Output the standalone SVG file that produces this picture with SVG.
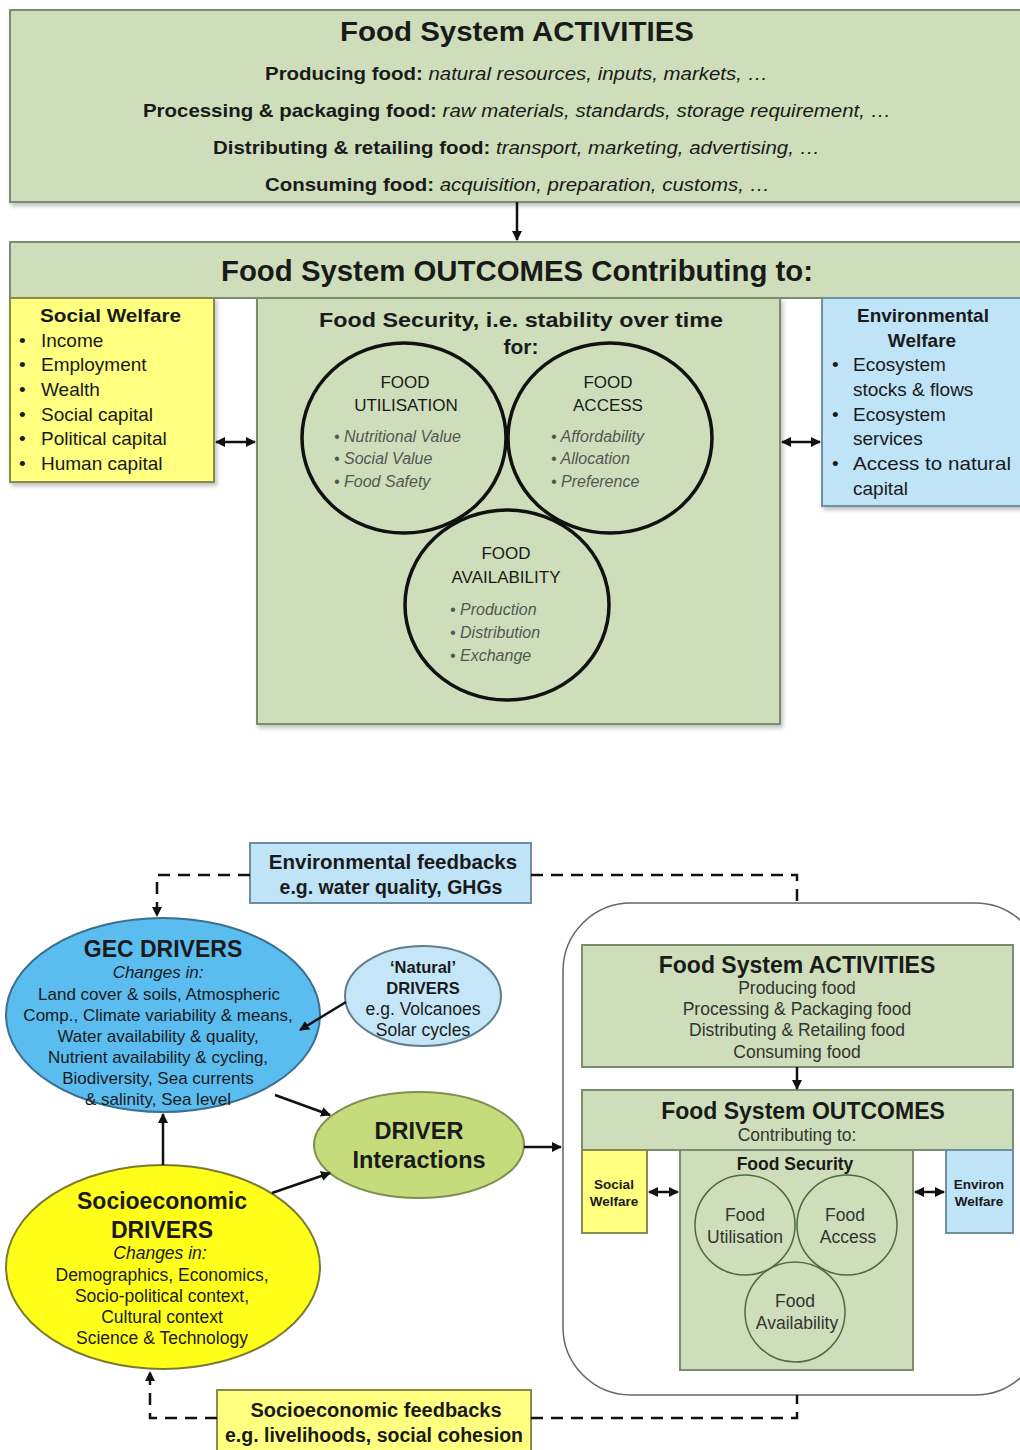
<svg xmlns="http://www.w3.org/2000/svg" width="1020" height="1450" viewBox="0 0 1020 1450">
<defs>
<style>
text{font-family:"Liberation Sans",Arial,sans-serif;fill:#1a1a1a}
.g{fill:#cfdeba;stroke:#7d8c6e;stroke-width:2}
.y{fill:#ffff80;stroke:#8a8a50;stroke-width:2}
.b{fill:#bfe3f7;stroke:#6f8fa0;stroke-width:2}
.b1{font-weight:bold}
.it{font-style:italic;fill:#555}
.c{text-anchor:middle}
.ring{fill:none;stroke:#111;stroke-width:3.5}
.ring2{fill:none;stroke:#4f6a3f;stroke-width:1.5}
.ln{stroke:#111;stroke-width:2.5;fill:none}
.dash{stroke:#111;stroke-width:2.5;fill:none;stroke-dasharray:12 8}
.sm{fill:#333;font-size:17.5px}
</style>
<marker id="ah" viewBox="0 0 10 10" refX="9" refY="5" markerWidth="4" markerHeight="4" orient="auto-start-reverse"><path d="M0,0L10,5L0,10z" fill="#111"/></marker>
<filter id="sh" x="-5%" y="-5%" width="110%" height="115%"><feDropShadow dx="2" dy="3" stdDeviation="2" flood-color="#000" flood-opacity="0.25"/></filter>
</defs>

<!-- TOP DIAGRAM -->
<g id="activities">
<rect class="g" x="10" y="10" width="1012" height="192" filter="url(#sh)"/>
<text class="b1 c" x="517" y="41" font-size="28" textLength="354" lengthAdjust="spacingAndGlyphs">Food System ACTIVITIES</text>
<text x="265" y="80" font-size="19" textLength="503" lengthAdjust="spacingAndGlyphs"><tspan class="b1">Producing food:</tspan><tspan font-style="italic"> natural resources, inputs, markets, …</tspan></text>
<text x="143" y="117" font-size="19" textLength="748" lengthAdjust="spacingAndGlyphs"><tspan class="b1">Processing &amp; packaging food:</tspan><tspan font-style="italic"> raw materials, standards, storage requirement, …</tspan></text>
<text x="213" y="154" font-size="19" textLength="607" lengthAdjust="spacingAndGlyphs"><tspan class="b1">Distributing &amp; retailing food:</tspan><tspan font-style="italic"> transport, marketing, advertising, …</tspan></text>
<text x="265" y="191" font-size="19" textLength="505" lengthAdjust="spacingAndGlyphs"><tspan class="b1">Consuming food:</tspan><tspan font-style="italic"> acquisition, preparation, customs, …</tspan></text>
</g>

<g id="outcomes">
<rect class="g" x="10" y="242" width="1012" height="56"/>
<text class="b1 c" x="517" y="281" font-size="29" textLength="592" lengthAdjust="spacingAndGlyphs">Food System OUTCOMES Contributing to:</text>
</g>

<g id="social-welfare">
<rect class="y" x="10" y="298" width="204" height="184" filter="url(#sh)"/>
<text class="b1" x="40" y="322" font-size="19" textLength="141" lengthAdjust="spacingAndGlyphs">Social Welfare</text>
<g font-size="19">
<text x="19" y="347">•</text><text x="41" y="347">Income</text>
<text x="19" y="371">•</text><text x="41" y="371">Employment</text>
<text x="19" y="396">•</text><text x="41" y="396">Wealth</text>
<text x="19" y="421">•</text><text x="41" y="421">Social capital</text>
<text x="19" y="445">•</text><text x="41" y="445">Political capital</text>
<text x="19" y="470">•</text><text x="41" y="470">Human capital</text>
</g>
</g>

<g id="food-security">
<rect class="g" x="257" y="298" width="523" height="426" filter="url(#sh)"/>
<text class="c" x="521" y="327" font-size="21" font-weight="bold" fill="#222" textLength="404" lengthAdjust="spacingAndGlyphs">Food Security, i.e. stability over time</text>
<text class="c b1" x="521" y="354" font-size="21">for:</text>
</g>

<g id="food-utilisation">
<ellipse class="ring" cx="404" cy="438" rx="102" ry="95"/>
<text class="c" x="405" y="388" font-size="17" fill="#222">FOOD</text>
<text class="c" x="406" y="411" font-size="17" fill="#222">UTILISATION</text>
<text class="it" x="334" y="442" font-size="16">• Nutritional Value</text>
<text class="it" x="334" y="464" font-size="16">• Social Value</text>
<text class="it" x="334" y="487" font-size="16">• Food Safety</text>
</g>

<g id="food-access">
<ellipse class="ring" cx="610" cy="438" rx="102" ry="95"/>
<text class="c" x="608" y="388" font-size="17" fill="#222">FOOD</text>
<text class="c" x="608" y="411" font-size="17" fill="#222">ACCESS</text>
<text class="it" x="551" y="442" font-size="16">• Affordability</text>
<text class="it" x="551" y="464" font-size="16">• Allocation</text>
<text class="it" x="551" y="487" font-size="16">• Preference</text>
</g>

<g id="food-availability">
<ellipse class="ring" cx="507" cy="605" rx="102" ry="95"/>
<text class="c" x="506" y="559" font-size="17" fill="#222">FOOD</text>
<text class="c" x="506" y="583" font-size="17" fill="#222">AVAILABILITY</text>
<text class="it" x="450" y="615" font-size="16">• Production</text>
<text class="it" x="450" y="638" font-size="16">• Distribution</text>
<text class="it" x="450" y="661" font-size="16">• Exchange</text>
</g>

<g id="environmental-welfare">
<rect class="b" x="822" y="298" width="200" height="208" filter="url(#sh)"/>
<text class="b1 c" x="923" y="322" font-size="19">Environmental</text>
<text class="b1 c" x="922" y="347" font-size="19">Welfare</text>
<g font-size="19">
<text x="832" y="371">•</text><text x="853" y="371">Ecosystem</text>
<text x="853" y="396">stocks &amp; flows</text>
<text x="832" y="421">•</text><text x="853" y="421">Ecosystem</text>
<text x="853" y="445">services</text>
<text x="832" y="470">•</text><text x="853" y="470" textLength="158" lengthAdjust="spacingAndGlyphs">Access to natural</text>
<text x="853" y="495">capital</text>
</g>
</g>

<!-- BOTTOM DIAGRAM -->
<g id="env-feedbacks">
<rect class="b" x="250" y="843" width="281" height="60"/>
<text class="b1 c" x="393" y="869" font-size="20.5">Environmental feedbacks</text>
<text class="c" x="391" y="894" font-size="19.5" font-weight="bold" fill="#222">e.g. water quality, GHGs</text>
</g>

<g id="gec-drivers">
<ellipse cx="163" cy="1015" rx="157" ry="97" fill="#5bbdef" stroke="#3a6f8f" stroke-width="2"/>
<text class="b1 c" x="163" y="957" font-size="23" fill="#10223a">GEC DRIVERS</text>
<g class="c" font-size="17">
<text x="158" y="978" font-style="italic" fill="#1e3350">Changes in:</text>
<text x="159" y="1000" fill="#1e3350">Land cover &amp; soils, Atmospheric</text>
<text x="158" y="1021" fill="#1e3350">Comp., Climate variability &amp; means,</text>
<text x="158" y="1042" fill="#1e3350">Water availability &amp; quality,</text>
<text x="158" y="1063" fill="#1e3350">Nutrient availability &amp; cycling,</text>
<text x="158" y="1084" fill="#1e3350">Biodiversity, Sea currents</text>
<text x="158" y="1105" fill="#1e3350">&amp; salinity, Sea level</text>
</g>
</g>

<g id="natural-drivers">
<ellipse cx="423" cy="996" rx="78" ry="50" fill="#c5e6f8" stroke="#5f7f90" stroke-width="2"/>
<text class="b1 c" x="423" y="973" font-size="16.5">‘Natural’</text>
<text class="b1 c" x="423" y="994" font-size="16.5">DRIVERS</text>
<text class="c" x="423" y="1015" font-size="17.5" fill="#3a4a5a">e.g. Volcanoes</text>
<text class="c" x="423" y="1036" font-size="17.5" fill="#3a4a5a">Solar cycles</text>
</g>

<g id="driver-interactions">
<ellipse cx="419" cy="1145" rx="105" ry="53" fill="#c6dc7c" stroke="#7f8f4f" stroke-width="2"/>
<text class="b1 c" x="419" y="1139" font-size="23.5">DRIVER</text>
<text class="b1 c" x="419" y="1168" font-size="23.5">Interactions</text>
</g>

<g id="socioeconomic-drivers">
<ellipse cx="163" cy="1267" rx="157" ry="102" fill="#ffff1a" stroke="#7a7a30" stroke-width="2"/>
<text class="b1 c" x="162" y="1209" font-size="23">Socioeconomic</text>
<text class="b1 c" x="162" y="1238" font-size="23">DRIVERS</text>
<g class="c" font-size="17.5">
<text x="160" y="1259" font-style="italic" fill="#4a4a20">Changes in:</text>
<text x="162" y="1281" fill="#4a4a20">Demographics, Economics,</text>
<text x="162" y="1302" fill="#4a4a20">Socio-political context,</text>
<text x="162" y="1323" fill="#4a4a20">Cultural context</text>
<text x="162" y="1344" fill="#4a4a20">Science &amp; Technology</text>
</g>
</g>

<g id="socio-feedbacks">
<rect class="y" x="217" y="1390" width="314" height="62"/>
<text class="b1 c" x="376" y="1417" font-size="20">Socioeconomic feedbacks</text>
<text class="c" x="374" y="1442" font-size="19.5" font-weight="bold" fill="#222">e.g. livelihoods, social cohesion</text>
</g>

<g id="food-system">
<rect x="563" y="903" width="480" height="492" rx="68" fill="#fff" stroke="#666" stroke-width="1.5"/>
</g>

<g id="fs-activities">
<rect class="g" x="582" y="945" width="431" height="122"/>
<text class="b1 c" x="797" y="973" font-size="23">Food System ACTIVITIES</text>
<text class="c sm" x="797" y="994">Producing food</text>
<text class="c sm" x="797" y="1015">Processing &amp; Packaging food</text>
<text class="c sm" x="797" y="1036">Distributing &amp; Retailing food</text>
<text class="c sm" x="797" y="1058">Consuming food</text>
</g>

<g id="fs-outcomes">
<rect class="g" x="582" y="1090" width="431" height="60"/>
<text class="b1 c" x="803" y="1119" font-size="23">Food System OUTCOMES</text>
<text class="c sm" x="797" y="1141">Contributing to:</text>
</g>

<g id="fs-social-welfare">
<rect class="y" x="582" y="1150" width="65" height="83"/>
<text class="b1 c" x="614" y="1189" font-size="13.5">Social</text>
<text class="b1 c" x="614" y="1206" font-size="13.5">Welfare</text>
</g>

<g id="fs-food-security">
<rect class="g" x="680" y="1150" width="233" height="220"/>
<text class="b1 c" x="795" y="1170" font-size="17.5">Food Security</text>
</g>

<g id="fs-utilisation">
<circle class="ring2" cx="745" cy="1225" r="50"/>
<text class="c sm" x="745" y="1221">Food</text>
<text class="c sm" x="745" y="1243">Utilisation</text>
</g>
<g id="fs-access">
<circle class="ring2" cx="847" cy="1225" r="50"/>
<text class="c sm" x="845" y="1221">Food</text>
<text class="c sm" x="848" y="1243">Access</text>
</g>
<g id="fs-availability">
<circle class="ring2" cx="795" cy="1312" r="50"/>
<text class="c sm" x="795" y="1307">Food</text>
<text class="c sm" x="797" y="1329">Availability</text>
</g>

<g id="fs-environ-welfare">
<rect class="b" x="946" y="1150" width="67" height="83"/>
<text class="b1 c" x="979" y="1189" font-size="13.5" fill="#1a2a3a">Environ</text>
<text class="b1 c" x="979" y="1206" font-size="13.5" fill="#1a2a3a">Welfare</text>
</g>

<!-- CONNECTORS -->
<g id="connectors">
<line class="ln" x1="517" y1="202" x2="517" y2="240" marker-end="url(#ah)"/>
<line class="ln" x1="216" y1="442" x2="255" y2="442" marker-start="url(#ah)" marker-end="url(#ah)"/>
<line class="ln" x1="782" y1="442" x2="820" y2="442" marker-start="url(#ah)" marker-end="url(#ah)"/>

<path class="dash" d="M250,875 H157 V916" marker-end="url(#ah)"/>
<path class="dash" d="M531,875 H797 V903"/>
<path class="dash" d="M217,1418 H150 V1372" marker-end="url(#ah)"/>
<path class="dash" d="M531,1418 H797 V1395"/>

<line class="ln" x1="346" y1="1002" x2="300" y2="1030" marker-end="url(#ah)"/>
<line class="ln" x1="275" y1="1095" x2="330" y2="1115" marker-end="url(#ah)"/>
<line class="ln" x1="272" y1="1193" x2="330" y2="1173" marker-end="url(#ah)"/>
<line class="ln" x1="163" y1="1165" x2="163" y2="1114" marker-end="url(#ah)"/>
<line class="ln" x1="524" y1="1147" x2="561" y2="1147" marker-end="url(#ah)"/>
<line class="ln" x1="797" y1="1067" x2="797" y2="1089" marker-end="url(#ah)"/>
<line class="ln" stroke-width="2" x1="649" y1="1192" x2="678" y2="1192" marker-start="url(#ah)" marker-end="url(#ah)"/>
<line class="ln" stroke-width="2" x1="915" y1="1192" x2="944" y2="1192" marker-start="url(#ah)" marker-end="url(#ah)"/>
</g>
</svg>
